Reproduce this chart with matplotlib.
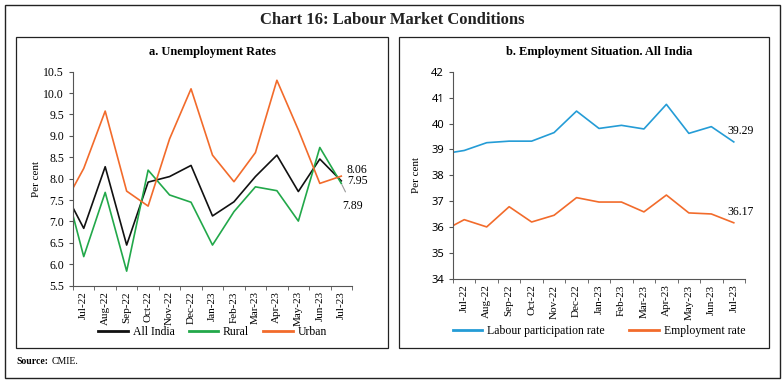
import numpy as np
import matplotlib
matplotlib.use("Agg")
import matplotlib.pyplot as plt
from matplotlib.patches import Rectangle

plt.rcParams['font.family'] = ['Liberation Serif', 'DejaVu Serif']

# months (Jun-22 is only partly visible at the left edge)
months = ['Jun-22', 'Jul-22', 'Aug-22', 'Sep-22', 'Oct-22', 'Nov-22', 'Dec-22',
          'Jan-23', 'Feb-23', 'Mar-23', 'Apr-23', 'May-23', 'Jun-23', 'Jul-23']

# a. unemployment rates
all_india = [7.80, 6.84, 8.28, 6.45, 7.92, 8.05, 8.31, 7.13, 7.46, 8.05, 8.55, 7.70, 8.46, 7.95]
rural = [8.10, 6.18, 7.68, 5.84, 8.20, 7.62, 7.45, 6.45, 7.23, 7.81, 7.72, 7.01, 8.73, 7.89]
urban = [7.32, 8.24, 9.58, 7.71, 7.36, 8.93, 10.10, 8.55, 7.93, 8.61, 10.30, 9.14, 7.89, 8.06]

# b. employment situation
lpr = [38.82, 38.96, 39.26, 39.32, 39.32, 39.65, 40.48, 39.81, 39.93, 39.79, 40.74, 39.62, 39.88, 39.29]
emp_rate = [35.83, 36.29, 36.01, 36.79, 36.20, 36.46, 37.14, 36.97, 36.97, 36.59, 37.24, 36.55, 36.51, 36.17]

W, H = 784, 385
fig = plt.figure(figsize=(W / 100, H / 100), dpi=100)

def box(x0, y0, x1, y1, lw=1.0):
    fig.patches.append(Rectangle((x0 / W, 1 - y1 / H), (x1 - x0) / W, (y1 - y0) / H,
                                 transform=fig.transFigure, fill=False,
                                 edgecolor='#222222', linewidth=lw))

box(5, 5, 780, 378, 1.0)
box(16, 37, 388, 348, 0.9)
box(399, 37, 769, 348, 0.9)

fig.text(392 / W, 1 - 20 / H, 'Chart 16: Labour Market Conditions', ha='center', va='center',
         fontsize=12, fontweight='bold', color='#222222')
fig.text(16 / W, 1 - 362 / H, 'Source:', ha='left', va='center', fontsize=7, fontweight='bold')
fig.text(52 / W, 1 - 362 / H, 'CMIE.', ha='left', va='center', fontsize=7)

x = np.arange(-1, len(months) - 1)
labels = months[1:]

def style_axis(ax):
    ax.set_xlim(-0.5, len(labels) - 0.5)
    ax.set_xticks(np.arange(len(labels)))
    ax.set_xticklabels(labels, rotation=90, fontsize=8)
    ax.set_xticks(np.arange(-0.5, len(labels)), minor=True)
    ax.tick_params(axis='x', which='major', length=0, pad=4)
    ax.tick_params(axis='x', which='minor', length=3, direction='out', color='#555555')
    ax.tick_params(axis='y', length=3, direction='out', color='#555555', labelsize=8.5)
    for s in ['top', 'right']:
        ax.spines[s].set_visible(False)
    for s in ['left', 'bottom']:
        ax.spines[s].set_color('#555555')
        ax.spines[s].set_linewidth(0.8)
    ax.set_ylabel('Per cent', fontsize=8)

# left panel
ax1 = fig.add_axes([73 / W, 1 - 285.7 / H, 279 / W, 214 / H])
ax1.plot(x, all_india, color='#111111', lw=1.2, label='All India')
ax1.plot(x, rural, color='#22a84a', lw=1.2, label='Rural')
ax1.plot(x, urban, color='#f26b2b', lw=1.2, label='Urban')
ax1.set_ylim(5.5, 10.5)
ax1.set_yticks(np.arange(5.5, 10.51, 0.5))
ax1.set_yticklabels([f'{v:.1f}' for v in np.arange(5.5, 10.51, 0.5)])
style_axis(ax1)
ax1.yaxis.set_label_coords(-0.115, 0.5)
ax1.set_title('a. Unemployment Rates', fontsize=9, fontweight='bold', pad=12)
ax1.annotate(f'{urban[-1]:.2f}', (x[-1], urban[-1]), xytext=(4, 4.5), textcoords='offset points',
             ha='left', va='center', fontsize=8.5)
ax1.annotate(f'{all_india[-1]:.2f}', (x[-1], all_india[-1]), xytext=(4, 0), textcoords='offset points',
             ha='left', va='center', fontsize=8.5)
ax1.annotate(f'{rural[-1]:.2f}', (x[-1], rural[-1]), xytext=(0.5, -16), textcoords='offset points',
             ha='left', va='center', fontsize=8.5,
             arrowprops=dict(arrowstyle='-', color='#999999', lw=0.8, shrinkA=4, shrinkB=1))
leg1 = ax1.legend(loc='center', bbox_to_anchor=(0.5, -0.216), ncol=3, frameon=False,
                  fontsize=8.5, handlelength=2.5, columnspacing=1.2, handletextpad=0.4)
for h in leg1.get_lines():
    h.set_linewidth(2)

# right panel
ax2 = fig.add_axes([453 / W, 1 - 279 / H, 292 / W, 207.3 / H])
ax2.plot(x, lpr, color='#249cd6', lw=1.2, label='Labour participation rate')
ax2.plot(x, emp_rate, color='#f26b2b', lw=1.2, label='Employment rate')
ax2.set_ylim(34, 42)
ax2.set_yticks(np.arange(34, 43, 1))
style_axis(ax2)
for t in ax2.get_yticklabels():
    t.set_fontfamily('Noto Sans')
    t.set_fontsize(8)
ax2.yaxis.set_label_coords(-0.11, 0.5)
ax2.set_title('b. Employment Situation. All India', fontsize=9, fontweight='bold', pad=12)
ax2.annotate(f'{lpr[-1]:.2f}', (x[-1], lpr[-1]), xytext=(5, 7.6), textcoords='offset points',
             ha='center', va='center', fontsize=8.5)
ax2.annotate(f'{emp_rate[-1]:.2f}', (x[-1], emp_rate[-1]), xytext=(5, 7.8), textcoords='offset points',
             ha='center', va='center', fontsize=8.5)
leg2 = ax2.legend(loc='center', bbox_to_anchor=(0.5, -0.251), ncol=2, frameon=False,
                  fontsize=8.5, handlelength=2.5, columnspacing=2.1, handletextpad=0.4)
for h in leg2.get_lines():
    h.set_linewidth(2)

fig.savefig('out.png', dpi=100)
